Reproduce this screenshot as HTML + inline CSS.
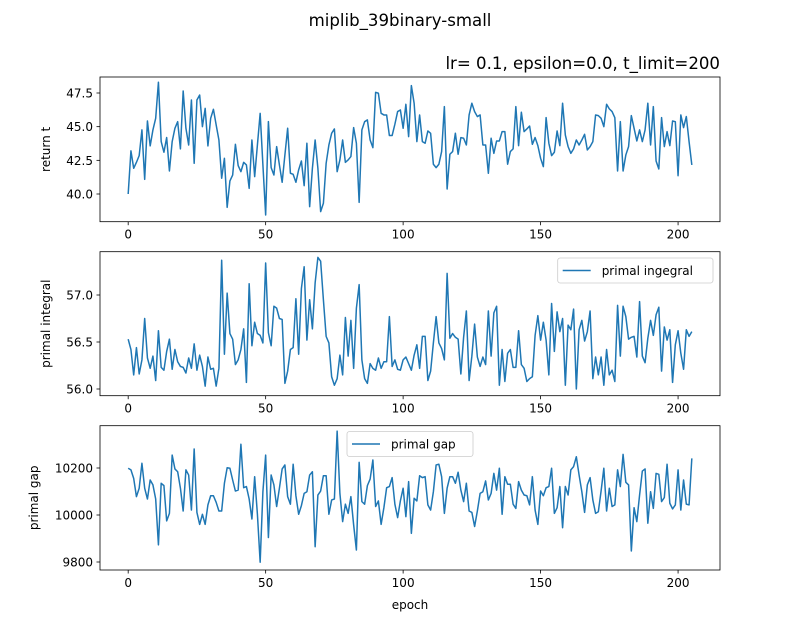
<!DOCTYPE html>
<html><head><meta charset="utf-8"><style>
html,body{margin:0;padding:0;background:#fff;}
svg{display:block;font-family:"DejaVu Sans","Liberation Sans",sans-serif;}
</style></head><body>
<svg id="fig" width="800" height="640" viewBox="0 0 800 640">
<text x="400" y="26" text-anchor="middle" font-size="16.6" fill="#000">miplib_39binary-small</text>
<text x="720" y="69" text-anchor="end" font-size="16.6" fill="#000">lr= 0.1, epsilon=0.0, t_limit=200</text>
</svg>
<script>
const epochTicks = [0, 50, 100, 150, 200];
const returnT = [40.00,43.20,41.91,42.35,42.85,44.76,41.09,45.42,43.57,44.76,45.62,48.30,43.89,43.10,44.19,41.71,43.89,44.88,45.37,43.35,47.65,44.88,43.64,46.98,42.28,46.98,47.35,45.00,46.36,43.57,45.62,46.29,45.13,44.01,41.17,42.65,39.01,40.97,41.41,43.69,42.11,41.66,42.35,42.16,40.42,44.01,41.29,43.64,45.99,42.16,38.44,45.37,41.96,41.41,43.52,42.16,40.87,42.90,44.88,41.54,41.46,40.87,41.79,42.45,40.62,43.77,39.06,41.91,44.01,41.91,38.69,39.31,42.28,43.64,44.51,44.83,41.66,42.53,44.01,42.35,42.53,42.78,44.93,43.77,39.38,44.76,45.37,45.50,44.01,43.44,47.55,47.48,45.99,45.87,45.87,44.34,44.34,45.18,46.12,46.24,
44.88,46.66,44.26,48.05,46.74,43.89,45.87,43.89,43.77,44.68,44.51,42.21,41.96,42.21,43.15,46.49,40.37,42.95,43.15,44.51,42.95,44.19,44.14,43.64,45.87,46.74,46.12,45.75,45.87,43.64,43.64,41.54,44.14,43.02,43.94,43.94,44.63,44.63,42.21,43.15,43.35,46.49,43.59,46.07,44.63,44.83,45.05,43.69,44.19,43.59,42.65,42.03,45.67,43.77,42.85,43.10,44.68,43.59,46.74,44.38,43.52,43.02,43.35,44.01,43.64,44.01,44.43,43.27,43.52,43.89,45.87,45.82,45.62,45.00,46.66,46.32,46.12,45.67,41.71,45.37,41.71,42.90,43.52,45.82,44.88,43.94,44.76,43.89,44.76,46.74,43.64,46.49,42.45,41.86,45.67,43.52,44.63,43.59,45.42,45.37,41.36,45.87,44.93,45.75,43.89,42.16];
const returnTicks = [40.0, 42.5, 45.0, 47.5];
const primalIntegral = [56.53,56.42,56.15,56.44,56.16,56.31,56.75,56.33,56.22,56.35,56.09,56.62,56.23,56.20,56.40,56.53,56.21,56.42,56.29,56.24,56.23,56.17,56.33,56.22,56.48,56.20,56.36,56.24,56.03,56.34,56.21,56.22,56.03,56.22,57.37,56.37,57.02,56.59,56.53,56.26,56.31,56.42,56.64,56.07,57.12,56.46,56.71,56.59,56.57,56.49,57.34,56.60,56.46,56.88,56.86,56.75,56.74,56.06,56.19,56.42,56.44,56.96,56.37,57.07,57.30,56.52,56.95,56.64,57.13,57.40,57.36,56.95,56.56,56.49,56.13,56.04,56.11,56.36,56.15,56.76,56.35,56.73,56.22,56.86,57.11,56.31,56.11,56.06,56.27,56.22,56.20,56.33,56.22,56.29,56.29,56.77,56.24,56.31,56.21,56.20,
56.31,56.34,56.27,56.20,56.36,56.47,56.22,56.56,56.56,56.09,56.19,56.49,56.77,56.49,56.43,56.31,57.23,56.54,56.59,56.55,56.53,56.16,56.55,56.83,56.09,56.35,56.69,56.34,56.24,56.34,56.26,56.83,56.35,56.81,56.88,56.04,56.42,56.08,56.38,56.42,56.23,56.23,56.62,56.26,56.22,56.08,56.11,56.13,56.57,56.78,56.52,56.71,56.52,56.15,56.91,56.40,56.82,56.61,56.75,56.04,56.68,56.63,56.85,56.00,56.63,56.73,56.51,56.61,56.83,56.11,56.34,56.15,56.34,56.04,56.42,56.15,56.20,56.08,56.89,56.35,56.88,56.77,56.53,56.55,56.56,56.34,56.93,56.35,56.28,56.54,56.73,56.57,56.79,56.87,56.19,56.66,56.52,56.63,56.07,56.47,56.62,56.38,56.21,56.63,56.56,56.61];
const integralTicks = [56.0, 56.5, 57.0];
const primalGap = [10199,10192,10156,10078,10114,10220,10114,10068,10149,10128,10068,9873,10135,10125,9975,10007,10255,10196,10184,10114,10017,10192,10170,10021,10281,10011,9960,10003,9960,10043,10082,10082,10054,10017,10017,10135,10201,10199,10149,10102,10106,10301,10116,10121,10068,9983,10163,10003,9799,10099,10255,9904,10170,10128,10036,10114,10196,10213,10078,10046,10216,10082,10003,10040,10092,10099,10170,10184,9865,10085,10102,10167,10167,10003,10064,10068,10357,10092,9972,10046,10007,10078,9958,9851,10224,10057,10046,10125,10153,10234,10036,10060,9960,10031,10116,10121,10159,10046,9989,10060,
10114,9993,10142,9922,10071,10060,10167,10159,10163,10043,10021,10099,10213,10216,10163,10007,10114,10163,10163,10135,10182,10106,10057,10135,10017,10011,9951,10017,10092,10099,10145,10064,10092,10177,10106,10199,10003,10163,10131,10131,10046,10028,10142,10106,10085,10082,10043,10163,10021,9960,10102,10082,10116,10121,10199,10007,10031,10121,9946,10121,10085,10192,10206,10248,10170,10099,10011,10128,10159,10064,10007,10014,10102,10199,10017,10114,10036,10043,10192,10121,10258,10139,10128,9847,10031,9972,10085,10187,10196,9965,10099,10028,10177,10173,10057,10074,10216,10050,10026,10043,10192,10021,10149,10046,10043,10241];
const gapTicks = [9800, 10000, 10200];

const NS = "http://www.w3.org/2000/svg";
const svg = document.getElementById('fig');
function mk(tag, attrs, parent) {
  const e = document.createElementNS(NS, tag);
  for (const k in attrs) e.setAttribute(k, attrs[k]);
  (parent || svg).appendChild(e);
  return e;
}
const X0 = 100, X1 = 720, XMIN = -10.25, XMAX = 215.25;
function xScale(v) { return X0 + (v - XMIN) / (XMAX - XMIN) * (X1 - X0); }

function panel(name, top, bottom, v1, p1, v2, p2, data, ticks, fmt, ylabel, legend) {
  const yScale = v => p1 + (v - v1) * (p2 - p1) / (v2 - v1);
  const g = mk('g', {});
  
  
  let d = '';
  data.forEach((v, i) => { d += (i ? 'L' : 'M') + xScale(i).toFixed(2) + ' ' + yScale(v).toFixed(2); });
  const clip = mk('clipPath', { id: 'clip-' + name }, g);
  mk('rect', { x: X0, y: top, width: X1 - X0, height: bottom - top }, clip);
  const line = mk('path', { d: d, fill: 'none', stroke: '#1f77b4', 'stroke-width': 1.5, 'stroke-linejoin': 'round', 'clip-path': 'url(#clip-' + name + ')' }, g);
  
  
  const frame = mk('rect', { x: X0, y: top, width: X1 - X0, height: bottom - top, fill: 'none', stroke: '#000', 'stroke-width': 0.8 }, g);
  
  
  epochTicks.forEach(t => {
    const x = xScale(t);
    mk('line', { x1: x, x2: x, y1: bottom, y2: bottom + 3.5, stroke: '#000', 'stroke-width': 0.8 }, g);
    const tl = mk('text', { x: x, y: bottom + 17, 'text-anchor': 'middle', 'font-size': 12, fill: '#000' }, g);
    tl.textContent = t;
    
    
  });
  ticks.forEach(t => {
    const y = yScale(t);
    mk('line', { x1: X0 - 3.5, x2: X0, y1: y, y2: y, stroke: '#000', 'stroke-width': 0.8 }, g);
    const tl = mk('text', { x: X0 - 7, y: y + 4.5, 'text-anchor': 'end', 'font-size': 12, fill: '#000' }, g);
    tl.textContent = fmt(t);
    
    
  });
  const cy = (top + bottom) / 2;
  const yl = mk('text', { x: 0, y: 0, transform: 'translate(' + (name === 'gap' ? 38 : 50) + ',' + cy + ') rotate(-90)', 'text-anchor': 'middle', 'font-size': 12, fill: '#000' }, g);
  yl.textContent = ylabel;
  
  
  if (legend) {
    const lg = mk('g', {}, g);
    
    
    mk('rect', { x: legend.x, y: legend.y, width: legend.w, height: 25, rx: 2.5, fill: '#fff', 'fill-opacity': 0.8, stroke: '#ccc', 'stroke-width': 0.8 }, lg);
    mk('line', { x1: legend.x + 5, x2: legend.x + 33, y1: legend.y + 12.5, y2: legend.y + 12.5, stroke: '#1f77b4', 'stroke-width': 1.5 }, lg);
    const lt = mk('text', { x: legend.x + 44, y: legend.y + 17, 'font-size': 12, fill: '#000' }, lg);
    lt.textContent = legend.label;
    
    
  }
}
panel('return', 77, 221.7, 47.5, 93, 40.0, 194, returnT, returnTicks, t => t.toFixed(1), 'return t', null);
panel('integral', 251.7, 395.7, 57.0, 295, 56.0, 389, primalIntegral, integralTicks, t => t.toFixed(1), 'primal integral', { x: 557.7, y: 258, w: 155.3, label: 'primal ingegral' });
panel('gap', 425.7, 570, 10200, 468, 9800, 562, primalGap, gapTicks, t => String(t), 'primal gap', { x: 347, y: 431.5, w: 126, label: 'primal gap' });
const xl = mk('text', { x: 410, y: 609, 'text-anchor': 'middle', 'font-size': 12, fill: '#000' });
xl.textContent = 'epoch';


</script>
</body></html>
